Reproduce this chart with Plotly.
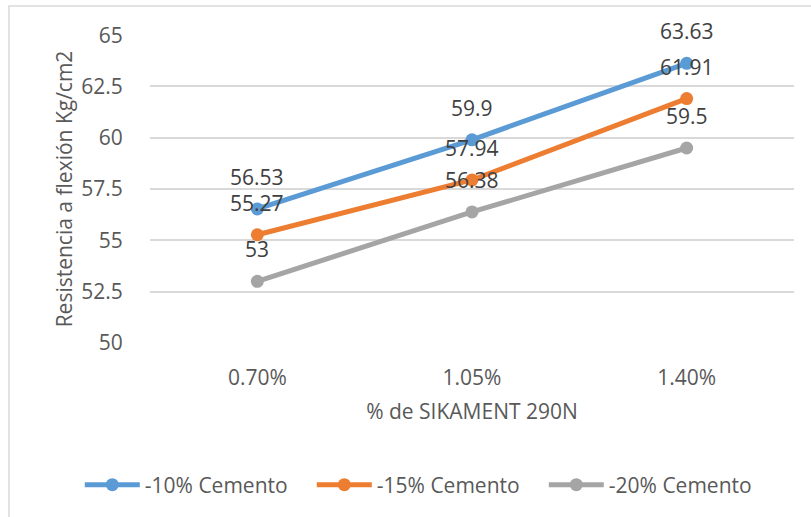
import plotly.graph_objects as go

# datos del ensayo de flexion
categorias = ["0.70%", "1.05%", "1.40%"]
series = ["-10% Cemento", "-15% Cemento", "-20% Cemento"]
valores_10 = [56.53, 59.9, 63.63]
valores_15 = [55.27, 57.94, 61.91]
valores_20 = [53, 56.38, 59.5]
y_ticks = [50, 52.5, 55, 57.5, 60, 62.5, 65]

colores = ["#5B9BD5", "#ED7D31", "#A5A5A5"]
FUENTE = "Open Sans"
TAM = 21

fig = go.Figure()

for nombre, vals, color in zip(series, [valores_10, valores_15, valores_20], colores):
    fig.add_trace(go.Scatter(
        x=categorias, y=vals, name=nombre, mode="lines+markers",
        line=dict(color=color, width=5),
        marker=dict(color=color, size=13),
        hoverinfo="skip",
    ))
    # etiquetas de datos encima de cada punto (estilo Excel)
    for c, v in zip(categorias, vals):
        fig.add_annotation(
            x=c, y=v, text=f"{v:g}", showarrow=False, yshift=32,
            font=dict(family=FUENTE, size=TAM, color="#404040"),
        )

# marco del grafico
fig.add_shape(type="rect", xref="paper", yref="paper",
              x0=-0.219, x1=1.2, y0=-0.7, y1=1.094,
              line=dict(color="#D9D9D9", width=1.5), fillcolor="rgba(0,0,0,0)",
              layer="below")

fig.update_layout(
    width=811, height=517,
    margin=dict(l=150, r=17, t=35, b=174),
    paper_bgcolor="white", plot_bgcolor="white",
    font=dict(family=FUENTE, size=TAM, color="#595959"),
    showlegend=True,
    legend=dict(
        orientation="h",
        x=-0.109, xanchor="left", y=-0.461, yanchor="middle",
        font=dict(family=FUENTE, size=TAM, color="#595959"),
        itemwidth=55,
        entrywidth=162, entrywidthmode="pixels",
        bgcolor="rgba(0,0,0,0)",
    ),
    xaxis=dict(
        type="category", range=[-0.5, 2.5],
        showgrid=False, showline=False, zeroline=False,
        ticks="outside", ticklen=16, tickcolor="rgba(0,0,0,0)",
        tickfont=dict(family=FUENTE, size=TAM, color="#595959"),
        title=dict(text="% de SIKAMENT 290N", standoff=14,
                   font=dict(family=FUENTE, size=TAM, color="#595959")),
    ),
    yaxis=dict(
        range=[49.99, 65.01], tickvals=y_ticks, ticktext=[f"{t:g}" for t in y_ticks],
        showgrid=True, gridcolor="#D9D9D9", gridwidth=1.5,
        showline=False, zeroline=False,
        ticks="outside", ticklen=22, tickcolor="rgba(0,0,0,0)",
        tickfont=dict(family=FUENTE, size=TAM, color="#595959"),
        title=dict(text="Resistencia a flexión Kg/cm2", standoff=2,
                   font=dict(family=FUENTE, size=TAM, color="#595959")),
    ),
)

# quitar el margen del body para que la figura empiece en (0, 0)
fig.write_html("out.html", config={"displayModeBar": False},
               post_script="document.body.style.margin='0';")
